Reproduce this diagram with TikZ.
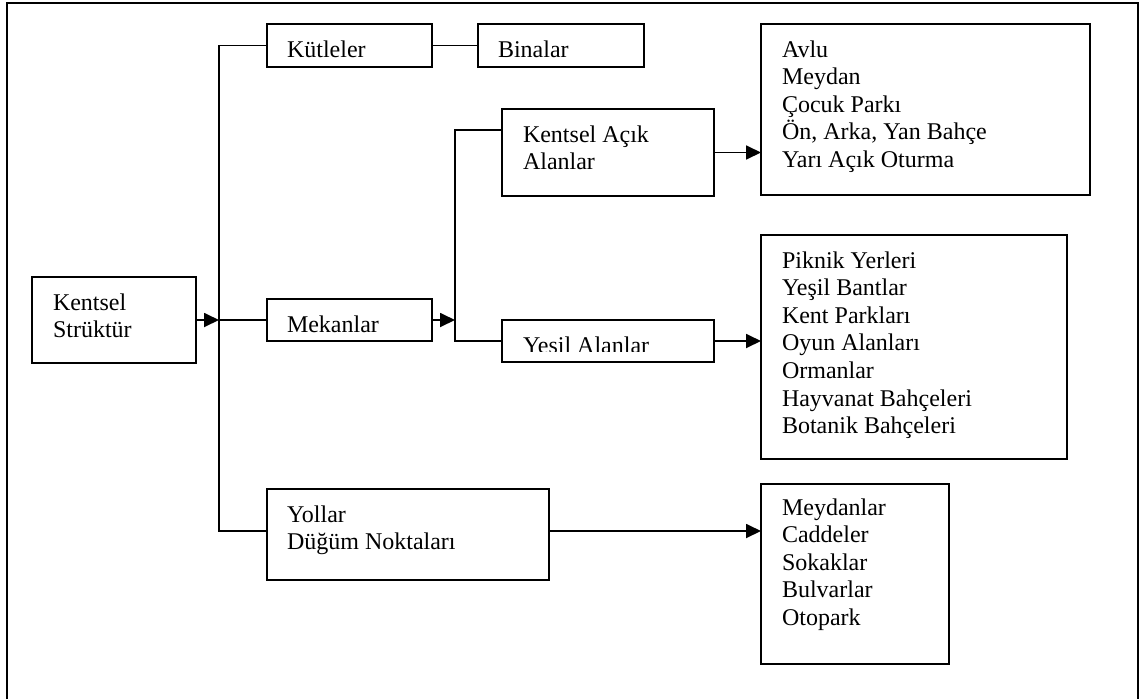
\documentclass[tikz,border=0pt]{standalone}
\usepackage{fontspec}
\setmainfont{Liberation Serif}
\usetikzlibrary{arrows.meta}
\begin{document}
\begin{tikzpicture}[x=1pt,y=-1pt,
  box/.style={draw,line width=1.9pt,rectangle,anchor=north west,inner sep=0pt,outer sep=0pt},
  lbl/.style={anchor=north west,inner sep=0pt,outer sep=0pt,align=left,font=\fontsize{24}{27.6}\selectfont},
  conn/.style={line width=1.8pt},
  arr/.style={conn,-{Triangle[length=15pt,width=14pt]}}]
\useasboundingbox (0,0) rectangle (1147,699);
% outer frame (bottom edge lies beyond the picture)
\draw[line width=1.9pt] (7,699) -- (7,3) -- (1138,3) -- (1138,699);
% boxes
\node[box,minimum width=164pt,minimum height=86pt] (kent) at (32,277) {};
\node[box,minimum width=165pt,minimum height=43pt] (kut) at (267,24) {};
\node[box,minimum width=166pt,minimum height=43pt] (bin) at (478,24) {};
\node[box,minimum width=165pt,minimum height=42pt] (mek) at (267,299) {};
\node[box,minimum width=282pt,minimum height=91pt] (yol) at (267,489) {};
\node[box,minimum width=212pt,minimum height=87pt] (kaa) at (502,109) {};
\node[box,minimum width=212pt,minimum height=42pt] (yes) at (502,320) {};
\node[box,minimum width=329pt,minimum height=171pt] (avlu) at (761,24) {};
\node[box,minimum width=306pt,minimum height=224pt] (pik) at (761,235) {};
\node[box,minimum width=188pt,minimum height=180pt] (mey) at (761,484) {};
% texts
\node[lbl] (kentT) at ([shift={(21,10)}]kent.north west) {\rule{0pt}{23pt}Kentsel\\Strüktür};
\node[lbl] (kutT) at ([shift={(20,10)}]kut.north west) {\rule{0pt}{23pt}Kütleler};
\node[lbl] (binT) at ([shift={(20,10)}]bin.north west) {\rule{0pt}{23pt}Binalar};
\node[lbl] (mekT) at ([shift={(20,10)}]mek.north west) {\rule{0pt}{23pt}Mekanlar};
\node[lbl] (yolT) at ([shift={(20,10)}]yol.north west) {\rule{0pt}{23pt}Yollar\\Düğüm Noktaları};
\node[lbl] (kaaT) at ([shift={(21,10)}]kaa.north west) {\rule{0pt}{23pt}Kentsel Açık\\Alanlar};
\begin{scope}
  \clip (yes.north west) rectangle (714,351);
  \node[lbl] (yesT) at ([shift={(21,10)}]yes.north west) {\rule{0pt}{23pt}Yesil Alanlar};
\end{scope}
\node[lbl] (avluT) at ([shift={(21,10)}]avlu.north west) {\rule{0pt}{23pt}Avlu\\Meydan\\Çocuk Parkı\\Ön, Arka, Yan Bahçe\\Yarı Açık Oturma};
\node[lbl] (pikT) at ([shift={(21,10)}]pik.north west) {\rule{0pt}{23pt}Piknik Yerleri\\Yeşil Bantlar\\Kent Parkları\\Oyun Alanları\\Ormanlar\\Hayvanat Bahçeleri\\Botanik Bahçeleri};
\node[lbl] (meyT) at ([shift={(21,8)}]mey.north west) {\rule{0pt}{23pt}Meydanlar\\Caddeler\\Sokaklar\\Bulvarlar\\Otopark};
% junction points
\coordinate (sMid) at (219,320);
\coordinate (sBot) at (219,531);
\coordinate (mJoin) at (455,320);
\coordinate (mTop) at (455,130);
\coordinate (mBot) at (455,341);
% connectors
\draw[arr] (kent.east) -- (sMid);
\draw[conn] (kut.west) -- (kut.west -| sMid) -- (sBot) -- (yol.west |- sBot);
\draw[conn] (sMid) -- (mek.west);
\draw[conn] (kut.east) -- (bin.west);
\draw[arr] (mek.east) -- (mJoin);
\draw[conn] (kaa.west |- mTop) -- (mTop) -- (mBot) -- (yes.west);
\draw[arr] (kaa.east) -- (kaa.east -| avlu.west);
\draw[arr] (yes.east) -- (yes.east -| pik.west);
\draw[arr] (yol.east |- sBot) -- (sBot -| mey.west);
\end{tikzpicture}
\end{document}
